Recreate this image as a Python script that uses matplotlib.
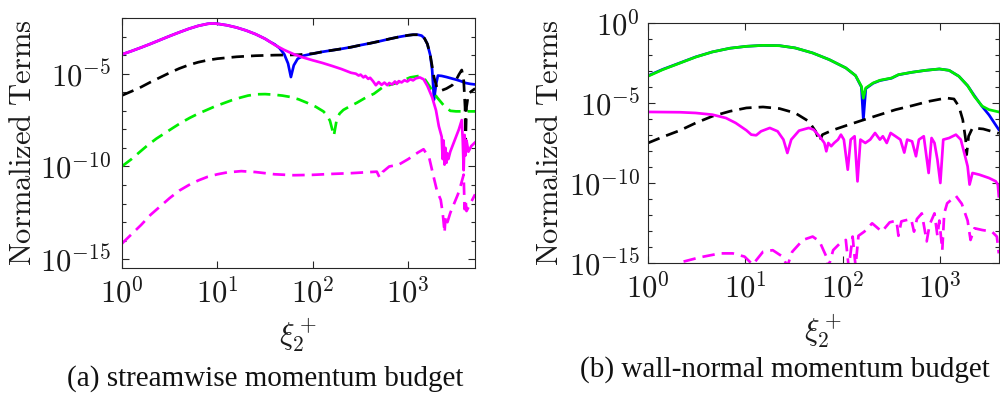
import numpy as np
import matplotlib
matplotlib.use("Agg")
import matplotlib.pyplot as plt
from matplotlib.ticker import FixedLocator, FuncFormatter, LogLocator, NullFormatter

plt.rcParams['mathtext.fontset'] = 'cm'
plt.rcParams['font.family'] = ['DejaVu Serif']

# ---------------- data (log10 of xi_2^+ and log10 of normalized term) ----------------
# (a) streamwise momentum budget
a_blue_lx = [0, 0.1, 0.2, 0.3, 0.4, 0.5, 0.6, 0.7, 0.8, 0.9, 0.95, 1.0, 1.1, 1.2, 1.3, 1.4, 1.5, 1.55,
             1.6, 1.65, 1.7, 1.74, 1.77, 1.8, 1.84, 1.9, 2.0, 2.1, 2.2, 2.3, 2.4, 2.5, 2.6, 2.7, 2.8,
             2.9, 3.0, 3.05, 3.1, 3.14, 3.17, 3.2, 3.23, 3.25, 3.26, 3.27, 3.29, 3.31, 3.35, 3.4,
             3.45, 3.5, 3.55, 3.6, 3.65, 3.7]
a_blue_ly = [-3.96, -3.78, -3.59, -3.39, -3.18, -2.97, -2.77, -2.58, -2.42, -2.31, -2.29, -2.31, -2.39,
             -2.51, -2.67, -2.87, -3.12, -3.28,
             -3.42, -3.62, -3.95, -4.45, -5.18, -4.55, -4.2, -4.03, -3.92, -3.82, -3.74, -3.66, -3.57,
             -3.46, -3.36, -3.25, -3.13, -3.02, -2.93, -2.9, -2.9, -2.95, -3.1, -3.4, -4.0, -4.8,
             -5.6, -6.4, -5.6, -5.1, -5.12, -5.18, -5.25, -5.32, -5.4, -5.5, -5.55, -5.58]

a_black_lx = [0, 0.1, 0.2, 0.3, 0.4, 0.5, 0.6, 0.7, 0.8, 0.9, 1.0, 1.2, 1.4, 1.6, 1.76, 1.85, 1.95,
              2.0, 2.1, 2.2, 2.3, 2.4, 2.5, 2.6, 2.7, 2.8, 2.9, 3.0, 3.05, 3.1, 3.14, 3.17, 3.2,
              3.23, 3.25, 3.27, 3.3, 3.34, 3.4, 3.46, 3.5, 3.53, 3.56, 3.58, 3.595, 3.6, 3.61,
              3.63, 3.66, 3.7]
a_black_ly = [-6.17, -5.95, -5.72, -5.45, -5.2, -4.95, -4.72, -4.53, -4.38, -4.27, -4.19, -4.09, -4.03,
              -4.0, -3.99, -3.98, -3.93,
              -3.92, -3.82, -3.74, -3.66, -3.57, -3.46, -3.36, -3.25, -3.13, -3.02, -2.93, -2.9, -2.9,
              -2.95, -3.1, -3.4, -4.0, -4.6, -5.2, -5.75, -5.92, -5.8, -5.62, -5.35, -5.05, -4.8,
              -5.3, -6.8, -8.8, -6.8, -6.1, -5.95, -5.8]

a_green_lx = [0, 0.1, 0.19, 0.27, 0.36, 0.45, 0.54, 0.62, 0.71, 0.8, 0.89, 0.97, 1.06, 1.15, 1.24,
              1.32, 1.41, 1.5, 1.59, 1.68, 1.76, 1.85, 1.94, 2.03, 2.11, 2.15, 2.18, 2.22, 2.25,
              2.28, 2.32, 2.39, 2.46, 2.55, 2.64, 2.74, 2.81, 2.88, 2.95, 3.02, 3.08, 3.11, 3.16,
              3.2, 3.25, 3.3, 3.37, 3.44, 3.5, 3.6, 3.7]
a_green_ly = [-9.99, -9.6, -9.2, -8.85, -8.5, -8.2, -7.9, -7.64, -7.38, -7.15, -6.95, -6.77, -6.6,
              -6.43, -6.29, -6.18, -6.11, -6.1, -6.13, -6.18, -6.25, -6.38, -6.57, -6.78, -7.03,
              -7.25, -7.55, -8.34, -7.47, -7.15, -6.95, -6.75, -6.57, -6.3, -6.08, -5.7, -5.6, -5.5,
              -5.35, -5.2, -5.15, -5.12, -5.2, -5.5, -5.9, -6.27, -6.7, -7.0, -7.03, -7.03, -7.03]

a_mag_lx = [0, 0.1, 0.2, 0.3, 0.4, 0.5, 0.6, 0.7, 0.8, 0.9, 0.95, 1.0, 1.1, 1.2, 1.3, 1.4, 1.5, 1.55,
            1.6, 1.7, 1.8, 1.9, 2.0, 2.1, 2.2, 2.3, 2.4, 2.45, 2.48, 2.5, 2.53, 2.55, 2.58, 2.6, 2.63,
            2.66, 2.69, 2.72, 2.75, 2.78, 2.8, 2.83, 2.86, 2.88, 2.9, 2.93, 2.96, 2.99, 3.02, 3.05,
            3.08, 3.12, 3.16, 3.2, 3.25, 3.29, 3.32, 3.35, 3.36, 3.37, 3.38, 3.39, 3.4, 3.41, 3.42,
            3.44, 3.47, 3.5, 3.53, 3.56, 3.57, 3.58, 3.59, 3.6, 3.61, 3.63, 3.66, 3.7]
a_mag_ly = [-3.96, -3.78, -3.59, -3.39, -3.18, -2.97, -2.77, -2.58, -2.42, -2.31, -2.29, -2.31, -2.39,
            -2.51, -2.67, -2.87, -3.12, -3.28,
            -3.45, -3.72, -3.95, -4.13, -4.28, -4.42, -4.58, -4.75, -4.95, -5.0, -5.1, -5.05, -5.2,
            -5.12, -5.28, -5.22, -5.4, -5.62, -5.45, -5.6, -5.48, -5.62, -5.5, -5.58, -5.42, -5.55,
            -5.4, -5.47, -5.35, -5.42, -5.3, -5.36, -5.25, -5.2, -5.3, -5.66, -6.27, -6.97, -7.83,
            -8.4, -9.6, -8.6, -9.9, -9.0, -9.8, -9.3, -9.6, -9.2, -8.8, -8.4, -8.0, -7.5, -8.5,
            -10.2, -8.3, -9.4, -8.6, -9.2, -8.9, -8.7]

a_magd_lx = [0, 0.1, 0.2, 0.3, 0.4, 0.5, 0.6, 0.7, 0.8, 0.9, 1.0, 1.1, 1.25, 1.4, 1.6, 1.8, 2.0, 2.2,
             2.4, 2.6, 2.67, 2.7, 2.73, 2.8, 2.9, 3.0, 3.1, 3.16, 3.22, 3.26, 3.3, 3.34, 3.36, 3.37,
             3.38, 3.39, 3.41, 3.44, 3.48, 3.52, 3.55, 3.58, 3.59, 3.6, 3.61, 3.65, 3.7]
a_magd_ly = [-14.15, -13.65, -13.15, -12.6, -12.15, -11.7, -11.3, -11.0, -10.75, -10.55, -10.42,
             -10.32, -10.25, -10.3, -10.42, -10.47, -10.45, -10.4, -10.36, -10.3, -10.28, -10.6,
             -10.3, -10.0, -9.9, -9.6, -9.25, -9.07, -9.55, -10.44, -11.3, -11.8, -12.5, -13.0,
             -13.56, -12.7, -13.0, -12.5, -12.0, -11.5, -11.0, -10.44, -12.3, -11.8, -12.4, -12.0,
             -11.5]

# (b) wall-normal momentum budget
b_green_lx = [0, 0.15, 0.33, 0.49, 0.66, 0.84, 1.01, 1.18, 1.35, 1.51, 1.69, 1.86, 2.03, 2.13, 2.19,
              2.21, 2.235, 2.31, 2.38, 2.5, 2.57, 2.71, 2.85, 2.99, 3.09, 3.19, 3.28, 3.35, 3.43,
              3.5, 3.6]
b_green_ly = [-3.33, -2.92, -2.5, -2.13, -1.81, -1.58, -1.46, -1.40, -1.42, -1.56, -1.875, -2.29,
              -2.81, -3.29, -3.96, -4.7, -4.06, -3.75, -3.58, -3.44, -3.23, -3.08, -2.96, -2.875,
              -2.96, -3.33, -3.92, -4.6, -5.2, -5.42, -5.56]

b_blue_lx = [0, 0.15, 0.33, 0.49, 0.66, 0.84, 1.01, 1.18, 1.35, 1.51, 1.69, 1.86, 2.03, 2.13, 2.19,
             2.21, 2.235, 2.31, 2.38, 2.5, 2.57, 2.71, 2.85, 2.99, 3.09, 3.19, 3.28, 3.35, 3.42,
             3.5, 3.6]
b_blue_ly = [-3.3, -2.9, -2.49, -2.12, -1.81, -1.58, -1.46, -1.40, -1.42, -1.56, -1.875, -2.29,
             -2.81, -3.29, -4.0, -6.05, -4.1, -3.77, -3.6, -3.45, -3.24, -3.08, -2.96, -2.875,
             -2.96, -3.33, -3.92, -4.55, -5.15, -5.75, -6.67]

b_black_lx = [0, 0.15, 0.33, 0.49, 0.66, 0.84, 1.01, 1.18, 1.35, 1.51, 1.65, 1.72, 1.76, 1.79, 1.89,
              2.03, 2.2, 2.38, 2.54, 2.71, 2.88, 3.06, 3.14, 3.19, 3.23, 3.26, 3.27, 3.29, 3.33,
              3.44, 3.6]
b_black_ly = [-7.5, -7.125, -6.71, -6.25, -5.83, -5.52, -5.31, -5.25, -5.35, -5.625, -6.15, -6.77,
              -7.4, -6.98, -6.71, -6.42, -6.08, -5.73, -5.42, -5.17, -4.9, -4.69, -4.75, -5.21,
              -6.04, -7.29, -8.23, -7.08, -6.56, -6.625, -6.9]

b_mag_lx = [0, 0.33, 0.49, 0.66, 0.8, 0.9, 1.01, 1.06, 1.11, 1.16, 1.25, 1.33, 1.39, 1.43, 1.47,
            1.55, 1.65, 1.7, 1.76, 1.81, 1.83, 1.85, 1.88, 1.91, 1.95, 1.98, 2.01, 2.05, 2.08, 2.12,
            2.15, 2.18, 2.23, 2.28, 2.33, 2.38, 2.41, 2.45, 2.49, 2.54, 2.59, 2.63, 2.66, 2.71,
            2.75, 2.78, 2.83, 2.88, 2.91, 2.94, 2.97, 3.0, 3.03, 3.09, 3.16, 3.21, 3.25, 3.28, 3.3,
            3.33, 3.4, 3.5, 3.57, 3.59, 3.6]
b_mag_ly = [-5.56, -5.58, -5.625, -5.73, -5.94, -6.25, -6.71, -6.98, -7.02, -6.77, -6.56, -6.77,
            -7.29, -8.125, -7.29, -6.73, -6.56, -6.67, -7.08, -7.5, -8.02, -7.5, -7.7, -7.5, -7.29,
            -6.98, -7.29, -9.17, -7.29, -7.08, -9.9, -7.29, -7.5, -7.29, -6.875, -7.29, -7.08, -7.5,
            -6.875, -7.08, -7.29, -8.1, -7.29, -7.4, -8.33, -7.29, -7.08, -9.375, -7.19, -7.5,
            -8.54, -10.0, -7.29, -7.19, -6.98, -7.29, -8.23, -8.96, -10.1, -9.375, -9.48, -9.69,
            -9.9, -10.1, -10.83]

b_magd_lx = [0.2, 0.36, 0.53, 0.74, 0.87, 0.99, 1.075, 1.18, 1.28, 1.38, 1.43, 1.48, 1.59, 1.69,
             1.76, 1.83, 1.85, 1.9, 1.97, 2.03, 2.06, 2.1, 2.13, 2.16, 2.22, 2.3, 2.4, 2.48, 2.55,
             2.57, 2.6, 2.63, 2.7, 2.73, 2.76, 2.81, 2.86, 2.89, 2.94, 2.97, 2.99, 3.02, 3.04, 3.07,
             3.16, 3.22, 3.28, 3.31, 3.35, 3.43, 3.53, 3.58, 3.6]
b_magd_ly = [-15.6, -14.92, -14.65, -14.4, -14.4, -14.6, -15.1, -14.3, -14.2, -14.6, -15.2, -14.3,
             -13.56, -13.35, -13.65, -14.6, -15.3, -14.2, -13.77, -13.56, -15.3, -13.35, -15.2,
             -13.3, -13.04, -12.52, -13.04, -12.46, -12.35, -13.3, -12.4, -12.35, -12.25, -13.04,
             -12.25, -11.9, -13.65, -12.6, -11.9, -13.3, -12.35, -14.2, -11.9, -11.27, -10.81,
             -11.3, -12.35, -13.56, -12.83, -12.94, -13.04, -13.35, -14.4]

x_ticks = [1e0, 1e1, 1e2, 1e3]
a_yticks = [1e-15, 1e-10, 1e-5]
b_yticks = [1e-15, 1e-10, 1e-5, 1e0]

captions = ['(a) streamwise momentum budget', '(b) wall-normal momentum budget']

# ---------------- styling ----------------
BLUE = '#0000ff'
MAG = '#ff00ff'
GREEN = '#00ee00'
BLACK = '#000000'
AXC = '#262626'
LW = 1.95
DASH = (4.6, 2.6)
FS = 22


def p(v):
    return 10.0 ** np.asarray(v, dtype=float)


def decade_fmt(v, pos):
    e = int(round(np.log10(v)))
    return r'$10^{%d}$' % e


def style_axis(ax, xlim, ylim, yticks, ypad):
    ax.set_xscale('log')
    ax.set_yscale('log')
    ax.set_xlim(*xlim)
    ax.set_ylim(*ylim)
    ax.xaxis.set_major_locator(FixedLocator(x_ticks))
    ax.xaxis.set_minor_locator(LogLocator(base=10, subs=np.arange(2, 10)))
    ax.xaxis.set_minor_formatter(NullFormatter())
    ax.xaxis.set_major_formatter(FuncFormatter(decade_fmt))
    ax.yaxis.set_major_locator(FixedLocator(yticks))
    ax.yaxis.set_minor_locator(FixedLocator([10.0 ** k for k in range(-16, 1)]))
    ax.yaxis.set_minor_formatter(NullFormatter())
    ax.yaxis.set_major_formatter(FuncFormatter(decade_fmt))
    ax.tick_params(which='both', direction='in', top=True, right=True, colors=AXC,
                   labelcolor='#1a1a1a', labelsize=FS, width=0.8)
    ax.tick_params(which='major', length=5)
    ax.tick_params(which='minor', length=3)
    ax.tick_params(axis='x', which='major', pad=7)
    ax.tick_params(axis='y', which='major', pad=ypad)
    for s in ax.spines.values():
        s.set_color(AXC)
        s.set_linewidth(0.8)


fig = plt.figure(figsize=(10, 3.96), dpi=100)
axa = fig.add_axes([0.122, 0.3232, 0.353, 0.6313])
axb = fig.add_axes([0.648, 0.3359, 0.351, 0.6061])

# panel (a)
axa.plot(p(a_blue_lx), p(a_blue_ly), color=BLUE, lw=LW)
axa.plot(p(a_black_lx), p(a_black_ly), color=BLACK, lw=LW, ls=(0, DASH))
axa.plot(p(a_green_lx), p(a_green_ly), color=GREEN, lw=LW, ls=(0, DASH))
axa.plot(p(a_mag_lx), p(a_mag_ly), color=MAG, lw=LW)
axa.plot(p(a_magd_lx), p(a_magd_ly), color=MAG, lw=LW, ls=(0, DASH))
style_axis(axa, (1, 5000), (10 ** -15.47, 1e-2), a_yticks, 8)

# panel (b)
axb.plot(p(b_blue_lx), p(b_blue_ly), color=BLUE, lw=LW)
axb.plot(p(b_green_lx), p(b_green_ly), color=GREEN, lw=LW)
axb.plot(p(b_black_lx), p(b_black_ly), color=BLACK, lw=LW, ls=(0, DASH))
axb.plot(p(b_mag_lx), p(b_mag_ly), color=MAG, lw=LW)
axb.plot(p(b_magd_lx), p(b_magd_ly), color=MAG, lw=LW, ls=(0, DASH))
style_axis(axb, (1, 4000), (1e-15, 1e0), b_yticks, 6)

for ax, ylx, xly in ((axa, -0.283, -0.192), (axb, -0.282, -0.204)):
    ax.set_ylabel(r'$\mathrm{Normalized\ Terms}$', fontsize=FS, color='#1a1a1a', va='center')
    ax.yaxis.set_label_coords(ylx, 0.5)
    ax.set_xlabel(r'$\xi_2^+$', fontsize=FS, color='#1a1a1a', va='top')
    ax.xaxis.set_label_coords(0.5, xly)

fig.text(0.265, 1 - 379 / 396, captions[0], ha='center', va='center',
         family='Liberation Serif', fontsize=21, color='#111111')
fig.text(0.785, 1 - 370 / 396, captions[1], ha='center', va='center',
         family='Liberation Serif', fontsize=21, color='#111111')

fig.savefig('out.png', dpi=100)
